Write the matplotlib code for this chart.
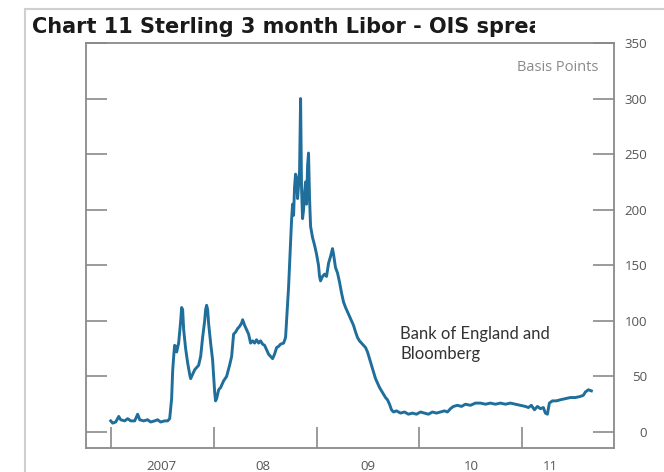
import matplotlib
matplotlib.use("Agg")
import matplotlib.pyplot as plt
from matplotlib.patches import Rectangle

# ---- data (decimal years, basis points) ----
years = [
    2007.000, 2007.019, 2007.049, 2007.078, 2007.097, 2007.136, 2007.165, 2007.194,
    2007.233, 2007.262, 2007.282, 2007.320, 2007.359, 2007.388, 2007.427, 2007.456,
    2007.485, 2007.524, 2007.553, 2007.573, 2007.592, 2007.602, 2007.612, 2007.621,
    2007.631, 2007.641, 2007.660, 2007.680, 2007.689, 2007.699, 2007.709, 2007.728,
    2007.748, 2007.767, 2007.777, 2007.796, 2007.816, 2007.835, 2007.854, 2007.874,
    2007.893, 2007.913, 2007.922, 2007.932, 2007.942, 2007.951, 2007.971, 2007.990,
    2008.000, 2008.010, 2008.019, 2008.029, 2008.049, 2008.068, 2008.097, 2008.126,
    2008.155, 2008.175, 2008.194, 2008.214, 2008.233, 2008.252, 2008.272, 2008.282,
    2008.301, 2008.320, 2008.340, 2008.359, 2008.379, 2008.398, 2008.417, 2008.437,
    2008.456, 2008.476, 2008.495, 2008.515, 2008.534, 2008.553, 2008.573, 2008.592,
    2008.612, 2008.631, 2008.650, 2008.680, 2008.699, 2008.709, 2008.718, 2008.728,
    2008.738, 2008.748, 2008.757, 2008.767, 2008.777, 2008.786, 2008.796, 2008.806,
    2008.816, 2008.825, 2008.835, 2008.845, 2008.854, 2008.864, 2008.874, 2008.883,
    2008.893, 2008.903, 2008.913, 2008.922, 2008.932, 2008.942, 2008.961, 2008.981,
    2009.000, 2009.019, 2009.029, 2009.039, 2009.058, 2009.078, 2009.097, 2009.117,
    2009.136, 2009.155, 2009.165, 2009.184, 2009.204, 2009.223, 2009.243, 2009.262,
    2009.282, 2009.301, 2009.320, 2009.340, 2009.359, 2009.379, 2009.398, 2009.417,
    2009.437, 2009.456, 2009.476, 2009.495, 2009.515, 2009.534, 2009.553, 2009.573,
    2009.592, 2009.612, 2009.631, 2009.650, 2009.670, 2009.689, 2009.709, 2009.728,
    2009.748, 2009.777, 2009.816, 2009.854, 2009.893, 2009.932, 2009.971, 2010.010,
    2010.049, 2010.087, 2010.126, 2010.165, 2010.204, 2010.243, 2010.272, 2010.301,
    2010.330, 2010.369, 2010.408, 2010.447, 2010.495, 2010.544, 2010.592, 2010.641,
    2010.689, 2010.738, 2010.786, 2010.835, 2010.883, 2010.932, 2010.981, 2011.029,
    2011.058, 2011.087, 2011.117, 2011.146, 2011.175, 2011.204, 2011.223, 2011.243,
    2011.262, 2011.291, 2011.330, 2011.369, 2011.417, 2011.466, 2011.515, 2011.563,
    2011.592, 2011.612, 2011.641, 2011.670,
]
spread_bp = [
    10, 8, 9, 14, 11, 10, 12, 10,
    10, 16, 11, 10, 11, 9, 10, 11,
    9, 10, 10, 12, 30, 55, 68, 78,
    77, 72, 80, 100, 112, 110, 92, 75,
    62, 52, 48, 52, 56, 58, 60, 68,
    85, 100, 110, 114, 110, 98, 80, 65,
    50, 36, 28, 30, 38, 40, 46, 50,
    60, 68, 88, 90, 93, 95, 98, 101,
    96, 92, 88, 80, 82, 80, 83, 80,
    82, 79, 78, 74, 70, 68, 66, 70,
    76, 77, 79, 80, 85, 100, 112, 130,
    150, 170, 190, 205, 195, 220, 232, 228,
    210, 222, 235, 300, 220, 192, 200, 215,
    225, 205, 240, 251, 210, 185, 175, 168,
    160, 150, 140, 136, 140, 142, 140, 152,
    158, 165, 160, 148, 143, 135, 125, 117,
    112, 108, 104, 100, 96, 90, 85, 82,
    80, 78, 76, 72, 66, 60, 54, 48,
    44, 40, 37, 34, 31, 29, 25, 20,
    18, 19, 17, 18, 16, 17, 16, 18,
    17, 16, 18, 17, 18, 19, 18, 21,
    23, 24, 23, 25, 24, 26, 26, 25,
    26, 25, 26, 25, 26, 25, 24, 23,
    22, 24, 20, 23, 21, 22, 17, 16,
    26, 28, 28, 29, 30, 31, 31, 32,
    33, 36, 38, 37,
]
year_ticks = [2007, 2008, 2009, 2010, 2011]
year_label_pos = [2007.49, 2008.48, 2009.50, 2010.50, 2011.27]
year_labels = ["2007", "08", "09", "10", "11"]
y_ticks = [0, 50, 100, 150, 200, 250, 300, 350]

W, H = 664, 472
fig = plt.figure(figsize=(W / 100, H / 100), dpi=100)
fig.patch.set_facecolor("white")

# outer light frame (only its top and left edges are inside the picture)
fig.add_artist(Rectangle((25 / W, -0.1), 2, 1.1 - 9 / H, transform=fig.transFigure,
                         fill=False, edgecolor="#cfcfcf", linewidth=1.5, zorder=0))

L, R, T, B = 86, 614, 43, 448
ax = fig.add_axes([L / W, 1 - B / H, (R - L) / W, (B - T) / H])

line_color = "#1f6e9b"
ax.plot(years, spread_bp, color=line_color, linewidth=2.1, solid_joinstyle="round")

ax.set_xlim(2006.76, 2011.89)
ax.set_ylim(-14.4, 349)

grey = "#8a8a8a"
for s in ax.spines.values():
    s.set_color(grey)
    s.set_linewidth(1.3)

ax.set_xticks(year_ticks)
ax.set_xticklabels([])
ax.set_xticks(year_label_pos, minor=True)
ax.set_xticklabels(year_labels, minor=True)
ax.tick_params(axis="x", which="major", direction="in", length=15, width=1.2, color=grey)
ax.tick_params(axis="x", which="minor", length=0, pad=9, labelsize=9.5, labelcolor="#555555")

ax.set_yticks(y_ticks)
ax.yaxis.set_ticks_position("both")
ax.tick_params(axis="y", direction="in", length=15, width=1.2, color=grey,
               labelleft=False, labelright=True, pad=24, labelsize=9.5, labelcolor="#555555")
for lab in ax.get_yticklabels():
    lab.set_horizontalalignment("right")

for lab in ax.get_xticklabels(minor=True) + ax.get_yticklabels():
    lab.set_family("Open Sans")

ax.text(0.97, 0.94, "Basis Points", transform=ax.transAxes, ha="right", va="center",
        fontsize=10.5, color="#8a8a8a", family="Open Sans")
ax.text(0.595, 0.30, "Bank of England and\nBloomberg", transform=ax.transAxes,
        ha="left", va="top", fontsize=12, color="#333333", family="Lato", linespacing=1.3)

fig.text(32 / W, 1 - 27 / H, "Chart 11 Sterling 3 month Libor - OIS spread",
         ha="left", va="center", fontsize=15, fontweight="bold",
         family="DejaVu Sans", color="#1a1a1a", zorder=1)
# the reference cuts the title off at this point
fig.add_artist(Rectangle((535 / W, 1 - 41 / H), 85 / W, 28 / H, transform=fig.transFigure,
                         facecolor="white", edgecolor="none", zorder=2))

fig.savefig("out.png", dpi=100, facecolor="white")
